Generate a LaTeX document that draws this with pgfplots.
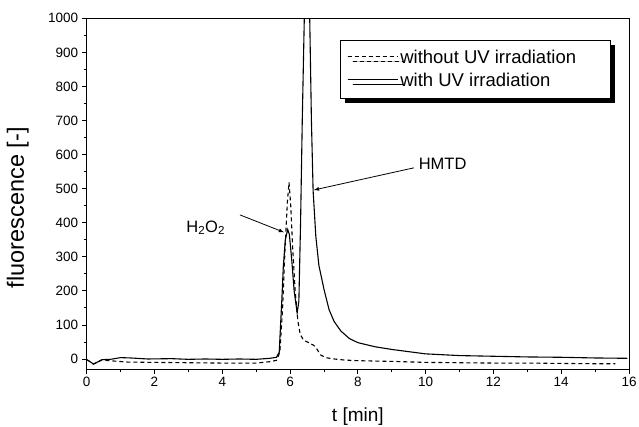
\documentclass[border=0pt]{standalone}
\usepackage{fontspec}
\setmainfont{Liberation Sans}
\usepackage{pgfplots}
\pgfplotsset{compat=1.18}
\usetikzlibrary{shadows}

% with UV irradiation
\pgfplotstableread{
t     f
0.00  -2
0.10  -8
0.20  -15
0.30  -10
0.45  -2
0.70  -1
1.00  4
1.30  3
1.80  0
2.50  1
3.00  -1
3.50  0
4.00  -1
4.50  0
5.00  -1
5.40  2
5.60  5
5.68  20
5.72  100
5.76  180
5.80  270
5.86  350
5.93  380
5.98  365
6.05  290
6.12  200
6.21  135
6.26  170
6.31  400
6.36  700
6.42  1000
6.50  1100
6.58  1000
6.63  700
6.68  494
6.76  360
6.85  275
7.00  205
7.15  145
7.30  110
7.50  82
7.75  60
8.00  48
8.50  36
9.00  28
10.00 15
11.00 10
12.00 8
13.00 6
14.00 5
15.00 3
15.95 2
}\withuv

% without UV irradiation
\pgfplotstableread{
t     f
0.00  -2
0.10  -8
0.20  -15
0.30  -10
0.45  -3
0.80  -6
1.20  -9
2.00  -10
3.00  -11
4.00  -12
5.00  -12
5.40  -8
5.60  -4
5.70  20
5.78  150
5.85  320
5.92  460
5.97  518
6.02  450
6.08  320
6.15  200
6.23  112
6.30  72
6.40  55
6.55  48
6.70  40
6.80  28
6.90  12
7.05  4
7.30  0
7.60  -3
8.00  -5
9.00  -7
10.00 -10
11.00 -11
12.00 -12
13.00 -12
14.00 -13
15.00 -14
15.60 -14
}\withoutuv

\begin{document}
\begin{tikzpicture}
\begin{axis}[
    scale only axis,
    width=542.3pt,
    height=350.7pt,
    xmin=0, xmax=16,
    ymin=-29.4, ymax=1000,
    xtick={0,2,...,16},
    minor x tick num=1,
    ytick={0,100,...,1000},
    minor y tick num=1,
    tick align=outside,
    xtick pos=bottom,
    ytick pos=left,
    major tick length=5pt,
    minor tick length=3pt,
    tick style={black, line width=0.8pt},
    axis line style={line width=0.8pt},
    ticklabel style={font=\fontsize{13.5}{13.5}\selectfont},
    /pgf/number format/assume math mode=true,
    /pgf/number format/1000 sep={},
    xlabel={t [min]},
    ylabel={fluorescence [-]},
    xlabel style={font=\fontsize{19}{19}\selectfont,
        at={(axis description cs:0.5,-0.135)}, anchor=center},
    ylabel style={font=\fontsize{23.5}{23.5}\selectfont,
        at={(axis description cs:-0.127,0.46)}, anchor=center},
    legend style={at={(axis cs:7.47,936)}, anchor=north west,
        font=\fontsize{18.5}{18.5}\selectfont, draw=black,
        line width=0.6pt, inner xsep=7pt, inner ysep=8pt,
        row sep=4pt,
        drop shadow={shadow xshift=5pt, shadow yshift=-5pt, fill=black, opacity=1}},
    legend cell align=left,
    legend image code/.code={%
        \draw[#1, line width=0.9pt] (0pt,0.3ex) -- (43pt,0.3ex);
        \path (0pt,0.3ex) -- (50pt,0.3ex);},
]
\addplot[black, line width=1.1pt, dash pattern=on 4pt off 3pt] table[x=t, y=f] {\withoutuv};
\addlegendentry{\makebox[201pt][l]{without UV irradiation}}
\addplot[black, line width=1.1pt] table[x=t, y=f] {\withuv};
\addlegendentry{\makebox[201pt][l]{with UV irradiation}}

\node[font=\fontsize{16.5}{16.5}\selectfont] at (axis cs:3.51,385) {H\textsubscript{2}O\textsubscript{2}};
\draw[-latex, line width=0.8pt] (axis cs:4.52,423) -- (axis cs:5.82,372);
\node[font=\fontsize{16.5}{16.5}\selectfont] at (axis cs:10.5,573) {HMTD};
\draw[-latex, line width=0.8pt] (axis cs:9.65,561) -- (axis cs:6.7,496);
\end{axis}
\pgfresetboundingbox
\path (current axis.south west) ++(-86.7pt,-57pt) rectangle ++(639pt,426pt);
\end{tikzpicture}
\end{document}
